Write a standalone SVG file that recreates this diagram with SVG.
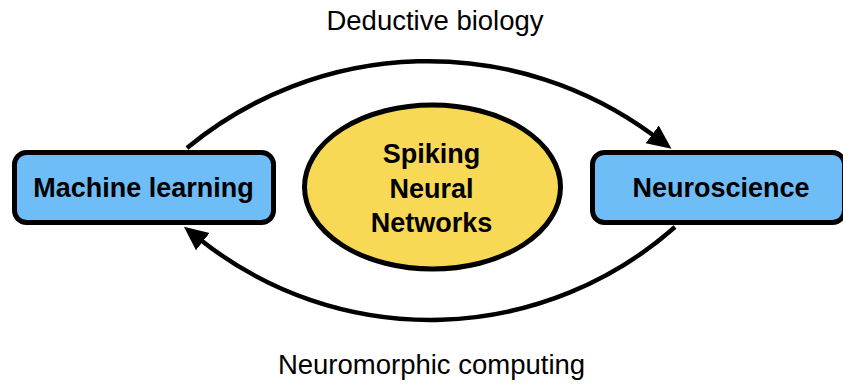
<svg xmlns="http://www.w3.org/2000/svg" width="843" height="387" viewBox="0 0 843 387">
  <style>
    .box { fill: #6ebdf7; stroke: #000; stroke-width: 5; }
    .core { fill: #f7d955; stroke: #000; stroke-width: 5; }
    .node-label { font-family: "Liberation Sans", Arial, Helvetica, sans-serif; font-weight: bold; font-size: 27px; fill: #000; text-anchor: middle; }
    .edge-label { font-family: "Liberation Sans", Arial, Helvetica, sans-serif; font-size: 27.5px; fill: #000; text-anchor: middle; }
    .edge { fill: none; stroke: #000; stroke-width: 4.5; }
  </style>
  <defs>
    <marker id="arrow" markerUnits="userSpaceOnUse" markerWidth="26" markerHeight="24" refX="1" refY="11" orient="auto">
      <path d="M0,0 L24,11 L0,22 z" fill="#000"/>
    </marker>
  </defs>

  <rect width="843" height="387" fill="#fff"/>

  <g id="connectors">
    <path class="edge" d="M187,148 A378.7,378.7 0 0 1 653,135" marker-end="url(#arrow)"/>
    <path class="edge" d="M675,227 A369.2,369.2 0 0 1 202,241" marker-end="url(#arrow)"/>
    <text class="edge-label" x="435" y="30">Deductive biology</text>
    <text class="edge-label" x="431.5" y="374">Neuromorphic computing</text>
  </g>

  <g id="machine-learning">
    <rect class="box" x="14.5" y="152.5" width="259" height="70" rx="12"/>
    <text class="node-label" x="143.5" y="197">Machine learning</text>
  </g>

  <g id="spiking-neural-networks">
    <ellipse class="core" cx="432.5" cy="187" rx="128" ry="82"/>
    <text class="node-label" x="431.5" y="163">Spiking</text>
    <text class="node-label" x="431.5" y="198">Neural</text>
    <text class="node-label" x="431.5" y="232">Networks</text>
  </g>

  <g id="neuroscience">
    <rect class="box" x="592.5" y="152.5" width="252" height="70" rx="12"/>
    <text class="node-label" x="721" y="197">Neuroscience</text>
  </g>
</svg>
